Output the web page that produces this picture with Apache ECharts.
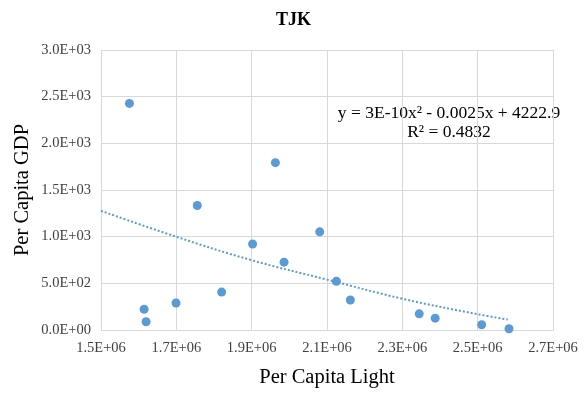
<!DOCTYPE html>
<html><head><meta charset="utf-8">
<script src="https://cdn.jsdelivr.net/npm/echarts@6/dist/echarts.min.js"></script>
<style>html,body{margin:0;padding:0;background:#fff}#c{width:587px;height:393px}</style>
</head><body><div id="c"></div>
<script>
const lightX = [1575500, 1963000, 1755600, 1902400, 2080700, 1986000, 2124900, 1820300, 1699200, 1614400, 1619700, 2162000, 2344800, 2387200, 2510600, 2583200];
const gdpY   = [2428, 1793, 1334, 921, 1052, 727, 522, 406, 289, 222, 88, 321, 173, 127, 56, 14];
const trendX = [1500000, 1700000, 1900000, 2100000, 2300000, 2500000, 2580000];
const trendY = [1277, 999, 748, 540, 335, 169, 112];
const xTicks = [1.5e6, 1.7e6, 1.9e6, 2.1e6, 2.3e6, 2.5e6, 2.7e6];
const yTicks = [0, 500, 1000, 1500, 2000, 2500, 3000];
const titleText = 'TJK';
const eqLine1 = 'y = 3E-10x² - 0.0025x + 4222.9';
const eqLine2 = 'R² = 0.4832';

function fmt(v){
  const s = v.toExponential(1).toUpperCase();
  return s.replace(/E([+-])(\d)$/, 'E$10$2');
}

const chart = echarts.init(document.getElementById('c'));
const serif = 'Liberation Serif';
chart.setOption({
  animation:false,
  title:{text:titleText,left:'center',top:6,textStyle:{fontFamily:serif,fontSize:18,fontWeight:'bold',color:'#000'}},
  grid:{left:101,right:34,top:50,bottom:60},
  xAxis:{type:'value',min:xTicks[0],max:xTicks[xTicks.length-1],interval:200000,
    name:'Per Capita Light',nameLocation:'middle',nameGap:37,nameMoveOverlap:false,
    nameTextStyle:{fontFamily:serif,fontSize:20.5,color:'#000'},
    axisLine:{show:true,lineStyle:{color:'#d9d9d9'}},axisTick:{show:false},
    axisLabel:{formatter:fmt,fontFamily:serif,fontSize:14.5,color:'#404040',margin:11},
    splitLine:{show:true,lineStyle:{color:'#d9d9d9'}}},
  yAxis:{type:'value',min:yTicks[0],max:yTicks[yTicks.length-1],interval:500,
    name:'Per Capita GDP',nameLocation:'middle',nameGap:68,nameMoveOverlap:false,
    nameTextStyle:{fontFamily:serif,fontSize:20.5,color:'#000'},
    axisLine:{show:true,lineStyle:{color:'#d9d9d9'}},axisTick:{show:false},
    axisLabel:{formatter:fmt,fontFamily:serif,fontSize:14.5,color:'#404040',margin:10},
    splitLine:{show:true,lineStyle:{color:'#d9d9d9'}}},
  series:[
    {type:'line',data:trendX.map((x,i)=>[x,trendY[i]]),showSymbol:false,symbol:'none',smooth:0.4,
     lineStyle:{color:'#5B9BD5',width:2,type:[2,2]},z:1},
    {type:'scatter',data:lightX.map((x,i)=>[x,gdpY[i]]),symbolSize:9,
     itemStyle:{color:'#5B9BD5',opacity:1},z:2}
  ],
  graphic:[
    {type:'text',x:449,y:113,style:{text:eqLine1,font:'17.5px "Liberation Serif"',fill:'#000',align:'center',verticalAlign:'middle'}},
    {type:'text',x:449,y:132,style:{text:eqLine2,font:'17.5px "Liberation Serif"',fill:'#000',align:'center',verticalAlign:'middle'}}
  ]
});
</script></body></html>
